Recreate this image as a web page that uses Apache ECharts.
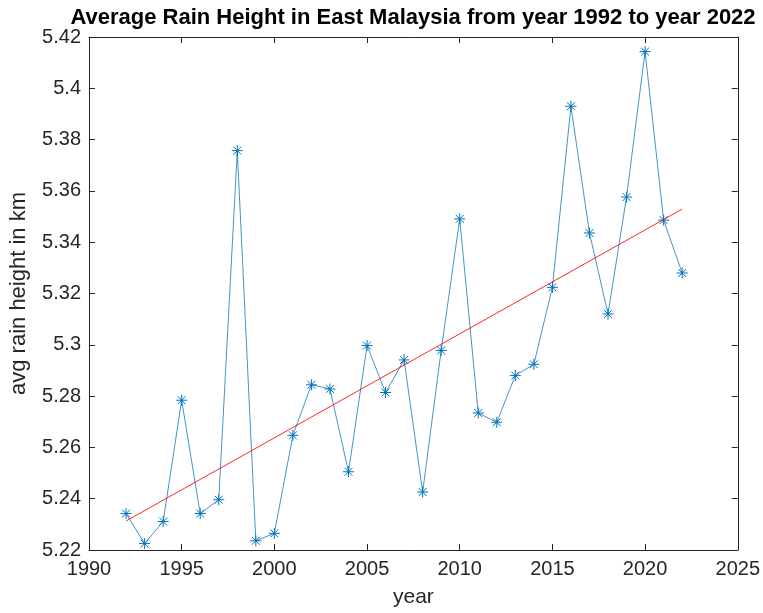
<!DOCTYPE html>
<html>
<head>
<meta charset="utf-8">
<script src="https://cdn.jsdelivr.net/npm/echarts@6/dist/echarts.min.js"></script>
<style>
  html, body { margin: 0; padding: 0; background: #fff; }
  #chart { width: 763px; height: 613px; }
</style>
</head>
<body>
<div id="chart"></div>
<script>
// Yearly average rain height (km), East Malaysia
const years = [1992, 1993, 1994, 1995, 1996, 1997, 1998, 1999, 2000, 2001,
               2002, 2003, 2004, 2005, 2006, 2007, 2008, 2009, 2010, 2011,
               2012, 2013, 2014, 2015, 2016, 2017, 2018, 2019, 2020, 2021, 2022];
const rainHeight = [5.2342, 5.2225, 5.2311, 5.2784, 5.2342, 5.2396, 5.3757, 5.2236, 5.2265, 5.2647,
                    5.2844, 5.2828, 5.2505, 5.2997, 5.2814, 5.2941, 5.2426, 5.2978, 5.3491, 5.2734,
                    5.2698, 5.2880, 5.2924, 5.3224, 5.3930, 5.3436, 5.3120, 5.3576, 5.4143, 5.3486, 5.3280];
// Linear trend end points
const trendYears = [1992, 2022];
const trendValues = [5.2313, 5.3529];

const xTicks = [1990, 1995, 2000, 2005, 2010, 2015, 2020, 2025];
const yTicks = [5.22, 5.24, 5.26, 5.28, 5.30, 5.32, 5.34, 5.36, 5.38, 5.40, 5.42];

const font = 'Liberation Sans, Arial, Helvetica, sans-serif';
const axisColor = '#262626';
const lineBlue = '#0072BD';
const asterisk = 'path://M0,-6L0,6M-6,0L6,0M-4.3,-4.3L4.3,4.3M-4.3,4.3L4.3,-4.3';

const fmtY = v => String(Number(v.toFixed(2)));
const fmtX = v => String(v);

const baseX = {
  type: 'value',
  min: xTicks[0], max: xTicks[xTicks.length - 1], interval: 5,
  splitLine: { show: false },
  axisLine: { lineStyle: { color: axisColor, width: 1 } },
  axisTick: { inside: true, length: 6, lineStyle: { color: axisColor } }
};
const baseY = {
  type: 'value',
  min: yTicks[0], max: yTicks[yTicks.length - 1], interval: 0.02,
  splitLine: { show: false },
  axisLine: { show: true, lineStyle: { color: axisColor, width: 1 } },
  axisTick: { show: true, inside: true, length: 6, lineStyle: { color: axisColor } }
};

const chart = echarts.init(document.getElementById('chart'), null, { renderer: 'canvas' });
chart.setOption({
  animation: false,
  backgroundColor: '#fff',
  title: {
    text: 'Average Rain Height in East Malaysia from year 1992 to year 2022',
    left: 413, top: 7, textAlign: 'center', padding: 0,
    textStyle: { fontFamily: font, fontWeight: 'bold', fontSize: 22, color: '#000' }
  },
  grid: { left: 86, right: 24, top: 37, bottom: 61 },
  xAxis: [
    Object.assign({}, baseX, {
      position: 'bottom',
      name: 'year', nameLocation: 'middle', nameGap: 37,
      nameTextStyle: { fontFamily: font, fontSize: 21, color: axisColor },
      axisLabel: { fontFamily: font, fontSize: 20, color: axisColor, margin: 9, formatter: fmtX }
    }),
    Object.assign({}, baseX, { position: 'top', axisLabel: { show: false } })
  ],
  yAxis: [
    Object.assign({}, baseY, {
      position: 'left',
      name: 'avg rain height in km', nameLocation: 'middle', nameGap: 59,
      nameTextStyle: { fontFamily: font, fontSize: 22, color: axisColor },
      axisLabel: { fontFamily: font, fontSize: 20, color: axisColor, margin: 8, formatter: fmtY }
    }),
    Object.assign({}, baseY, { position: 'right', axisLabel: { show: false } })
  ],
  series: [
    {
      type: 'line',
      data: years.map((y, i) => [y, rainHeight[i]]),
      symbol: asterisk,
      symbolSize: 11,
      lineStyle: { color: lineBlue, width: 1, opacity: 0.75 },
      itemStyle: { color: 'rgba(0,0,0,0)', borderColor: lineBlue, borderWidth: 1 },
      z: 3
    },
    {
      type: 'line',
      data: trendYears.map((y, i) => [y, trendValues[i]]),
      showSymbol: false,
      symbol: 'none',
      lineStyle: { color: '#ff0000', width: 1, opacity: 0.85 },
      z: 4
    }
  ]
});
</script>
</body>
</html>
